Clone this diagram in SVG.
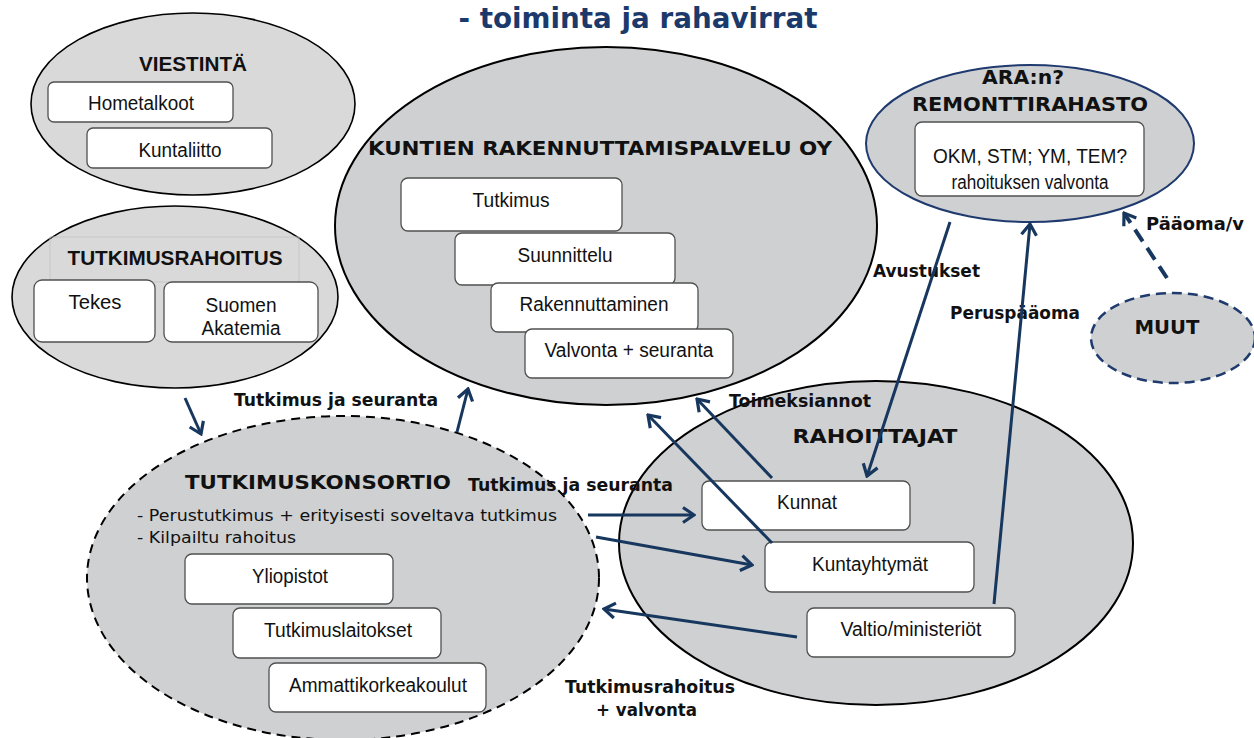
<svg xmlns="http://www.w3.org/2000/svg" width="1254" height="738" viewBox="0 0 1254 738">
<style>
.bg{fill:#ffffff}
.ell{stroke:#000;stroke-width:2;fill:#cfd0d2}
.ell-l{stroke:#000;stroke-width:1.6;fill:#d9d9d9}
.ell-d{stroke:#000;stroke-width:2;fill:#cfd0d2;stroke-dasharray:9 6}
.ell-b{stroke:#1f3a6e;stroke-width:2;fill:#cfd0d2}
.ell-bd{stroke:#1f3a6e;stroke-width:2.5;fill:#cfd0d2;stroke-dasharray:10 6}
.box{fill:#fff;stroke:#505050;stroke-width:1.3}
.bt{font-family:"Liberation Sans",Arial,sans-serif;font-size:20px;fill:#111;text-anchor:middle}
.ht{font-family:"Liberation Sans",Arial,sans-serif;font-weight:bold;font-size:20px;fill:#111;text-anchor:middle}
.vt{font-family:"DejaVu Sans",Verdana,sans-serif;font-weight:bold;font-size:20px;fill:#111;text-anchor:middle}
.lb{font-family:"DejaVu Sans",Verdana,sans-serif;font-weight:bold;font-size:17px;fill:#111}
.pt{font-family:"DejaVu Sans",Verdana,sans-serif;font-size:15.5px;fill:#111}
.con{stroke:#17375e;stroke-width:3;fill:none;marker-end:url(#ah)}
.dash{stroke-dasharray:14 8;stroke-width:4}
</style>
<defs>
<marker id="ah" viewBox="-14 -10 16 20" markerWidth="16" markerHeight="20" refX="0" refY="0" orient="auto" markerUnits="userSpaceOnUse">
<path d="M-11,-7.5 L0,0 L-11,7.5" fill="none" stroke="#17375e" stroke-width="3.2"/>
</marker>
</defs>
<rect class="bg" x="0" y="0" width="1254" height="738"/>

<text id="title" x="638" y="28" font-family="'DejaVu Sans',Verdana,sans-serif" font-weight="bold" font-size="28" fill="#1b3a6b" text-anchor="middle" textLength="359" lengthAdjust="spacingAndGlyphs">- toiminta ja rahavirrat</text>

<g id="viestinta">
<ellipse class="ell-l" cx="193" cy="104" rx="162" ry="91"/>
<text class="ht" x="193" y="71" textLength="108" lengthAdjust="spacingAndGlyphs">VIESTINTÄ</text>
<g id="hometalkoot"><rect class="box" x="48" y="82" width="185" height="40" rx="6"/><text class="bt" x="141" y="110" textLength="106" lengthAdjust="spacingAndGlyphs">Hometalkoot</text></g>
<g id="kuntaliitto"><rect class="box" x="87" y="128" width="185" height="40" rx="6"/><text class="bt" x="180" y="157" textLength="83" lengthAdjust="spacingAndGlyphs">Kuntaliitto</text></g>
</g>

<g id="tutkimusrahoitus">
<ellipse class="ell-l" cx="175" cy="297" rx="163" ry="91"/>
<rect x="50" y="237" width="249" height="45" fill="none" stroke="#c4c4c4" stroke-width="0.8"/>
<text class="ht" x="175" y="265" textLength="215" lengthAdjust="spacingAndGlyphs">TUTKIMUSRAHOITUS</text>
<g id="tekes"><rect class="box" x="34" y="280" width="121" height="62" rx="8"/><text class="bt" x="95" y="309" textLength="53" lengthAdjust="spacingAndGlyphs">Tekes</text></g>
<g id="suomen-akatemia"><rect class="box" x="164" y="282" width="154" height="60" rx="8"/><text class="bt" x="241" y="312" textLength="71" lengthAdjust="spacingAndGlyphs">Suomen</text><text class="bt" x="241" y="335" textLength="79" lengthAdjust="spacingAndGlyphs">Akatemia</text></g>
</g>

<g id="kuntien-rakennuttamispalvelu">
<ellipse class="ell" cx="606" cy="226" rx="271" ry="179" stroke-width="2.4"/>
<text class="vt" x="600" y="155" textLength="464" lengthAdjust="spacingAndGlyphs">KUNTIEN RAKENNUTTAMISPALVELU OY</text>
<g id="tutkimus"><rect class="box" x="401" y="178" width="221" height="53" rx="7"/><text class="bt" x="511" y="207" textLength="77" lengthAdjust="spacingAndGlyphs">Tutkimus</text></g>
<g id="suunnittelu"><rect class="box" x="455" y="233" width="220" height="52" rx="7"/><text class="bt" x="565" y="262" textLength="95" lengthAdjust="spacingAndGlyphs">Suunnittelu</text></g>
<g id="rakennuttaminen"><rect class="box" x="491" y="283" width="207" height="49" rx="7"/><text class="bt" x="594" y="311" textLength="149" lengthAdjust="spacingAndGlyphs">Rakennuttaminen</text></g>
<g id="valvonta-seuranta"><rect class="box" x="525" y="329" width="208" height="49" rx="7"/><text class="bt" x="629" y="357" textLength="169" lengthAdjust="spacingAndGlyphs">Valvonta + seuranta</text></g>
</g>

<g id="ara-remonttirahasto">
<ellipse class="ell-b" cx="1030" cy="143.5" rx="164" ry="78.5"/>
<text class="vt" x="1023" y="84" textLength="82" lengthAdjust="spacingAndGlyphs">ARA:n?</text>
<text class="vt" x="1030" y="111" textLength="236" lengthAdjust="spacingAndGlyphs">REMONTTIRAHASTO</text>
<g id="okm-box"><rect class="box" x="915" y="122" width="229" height="74" rx="7"/>
<text class="bt" x="1030" y="163" textLength="194" lengthAdjust="spacingAndGlyphs">OKM, STM; YM, TEM?</text>
<text class="bt" x="1030" y="189" font-size="16" textLength="157" lengthAdjust="spacingAndGlyphs">rahoituksen valvonta</text></g>
</g>

<g id="muut">
<ellipse class="ell-bd" cx="1173" cy="338" rx="82" ry="45"/>
<text class="vt" x="1167" y="334" textLength="65" lengthAdjust="spacingAndGlyphs">MUUT</text>
</g>

<g id="tutkimuskonsortio">
<ellipse class="ell-d" cx="343" cy="578" rx="256" ry="162"/>
<text class="vt" x="318" y="489" textLength="266" lengthAdjust="spacingAndGlyphs">TUTKIMUSKONSORTIO</text>
<text class="pt" x="137" y="521" textLength="420" lengthAdjust="spacingAndGlyphs">- Perustutkimus + erityisesti soveltava tutkimus</text>
<text class="pt" x="137" y="543" textLength="159" lengthAdjust="spacingAndGlyphs">- Kilpailtu rahoitus</text>
<g id="yliopistot"><rect class="box" x="185" y="554" width="208" height="50" rx="7"/><text class="bt" x="290" y="583" textLength="76" lengthAdjust="spacingAndGlyphs">Yliopistot</text></g>
<g id="tutkimuslaitokset"><rect class="box" x="233" y="608" width="208" height="50" rx="7"/><text class="bt" x="338" y="637" textLength="148" lengthAdjust="spacingAndGlyphs">Tutkimuslaitokset</text></g>
<g id="ammattikorkeakoulut"><rect class="box" x="269" y="663" width="217" height="49" rx="7"/><text class="bt" x="378" y="692" textLength="178" lengthAdjust="spacingAndGlyphs">Ammattikorkeakoulut</text></g>
</g>

<g id="rahoittajat">
<ellipse class="ell" cx="876" cy="543" rx="257" ry="162"/>
<text class="vt" x="875" y="443" textLength="165" lengthAdjust="spacingAndGlyphs">RAHOITTAJAT</text>
<g id="kunnat"><rect class="box" x="702" y="481" width="208" height="49" rx="7"/><text class="bt" x="807" y="509" textLength="60" lengthAdjust="spacingAndGlyphs">Kunnat</text></g>
<g id="kuntayhtymat"><rect class="box" x="765" y="542" width="209" height="50" rx="7"/><text class="bt" x="870" y="571" textLength="116" lengthAdjust="spacingAndGlyphs">Kuntayhtymät</text></g>
<g id="valtio"><rect class="box" x="807" y="608" width="208" height="49" rx="7"/><text class="bt" x="911" y="636" textLength="141" lengthAdjust="spacingAndGlyphs">Valtio/ministeriöt</text></g>
</g>

<g id="labels">
<text class="lb" x="234" y="406" textLength="204" lengthAdjust="spacingAndGlyphs">Tutkimus ja seuranta</text>
<text class="lb" x="468" y="491" textLength="205" lengthAdjust="spacingAndGlyphs">Tutkimus ja seuranta</text>
<text class="lb" x="729" y="407" textLength="142" lengthAdjust="spacingAndGlyphs">Toimeksiannot</text>
<text class="lb" x="873" y="277" textLength="107" lengthAdjust="spacingAndGlyphs">Avustukset</text>
<text class="lb" x="950" y="319" textLength="130" lengthAdjust="spacingAndGlyphs">Peruspääoma</text>
<text class="lb" x="1146" y="230" textLength="98" lengthAdjust="spacingAndGlyphs">Pääoma/v</text>
<text class="lb" x="565" y="693" textLength="170" lengthAdjust="spacingAndGlyphs">Tutkimusrahoitus</text>
<text class="lb" x="596" y="716" textLength="101" lengthAdjust="spacingAndGlyphs">+ valvonta</text>
</g>

<g id="connectors">
<line class="con" x1="185" y1="398" x2="201" y2="434"/>
<line class="con" x1="457" y1="432" x2="468" y2="389"/>
<line class="con" x1="772" y1="478" x2="697" y2="399"/>
<line class="con" x1="772" y1="543" x2="648" y2="415"/>
<line class="con" x1="950" y1="222" x2="867" y2="476"/>
<line class="con" x1="994" y1="604" x2="1030" y2="224"/>
<line class="con dash" x1="1167" y1="278" x2="1124" y2="213"/>
<line class="con" x1="588" y1="515" x2="694" y2="515"/>
<line class="con" x1="596" y1="537" x2="752" y2="565"/>
<line class="con" x1="797" y1="637" x2="604" y2="609"/>
</g>
</svg>
